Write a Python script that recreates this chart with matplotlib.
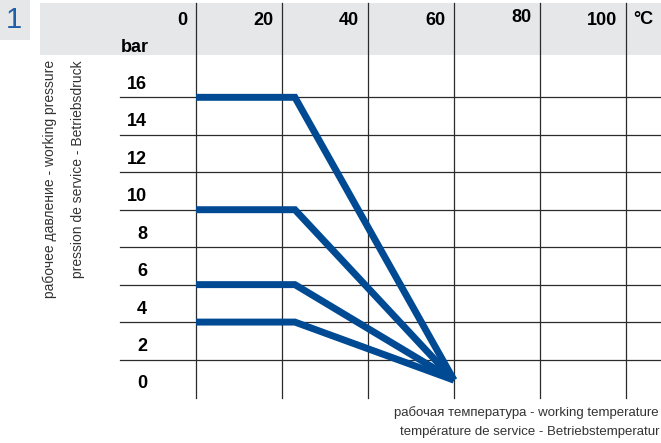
import matplotlib
matplotlib.use("Agg")
from matplotlib import pyplot as plt

# chart data
temps_ticks = [0, 20, 40, 60, 80, 100]
bar_ticks = [0, 2, 4, 6, 8, 10, 12, 14, 16]
pressures = [16, 10, 6, 4]
knee_temp = 23
end_temp = 60
end_pressure = 0.9

BLUE = "#004a93"
GRID = "#2b2b2b"
NARROW = ["Liberation Sans Narrow", "Liberation Sans", "DejaVu Sans"]

# pixel -> data mapping (86 px per 20 degC, 18.73 px per bar)
PX_X = 20 / 86.0
PX_Y = 1 / 18.73
X0, Y0 = 196, 397
W, H = 661, 443


def dx(px):
    return (px - X0) * PX_X


def dy(py):
    return (Y0 - py) * PX_Y


fig = plt.figure(figsize=(W / 100, H / 100), dpi=100)
ax = fig.add_axes([0, 0, 1, 1])
ax.set_xlim(dx(0), dx(W))
ax.set_ylim(dy(H), dy(0))
ax.axis("off")

# grey header band and "1" box
ax.fill_between([dx(40), dx(W)], dy(55), dy(3), color="#e6e7e9", lw=0, zorder=0)
ax.fill_between([dx(0), dx(30)], dy(40), dy(0), color="#e6e7e9", lw=0, zorder=0)
ax.text(dx(14), dy(20), "1", color="#1f5fa6", fontsize=21, ha="center", va="center",
        family=["Liberation Sans", "DejaVu Sans"])

# grid
for t in temps_ticks:
    ax.plot([t, t], [dy(398), dy(3)], color=GRID, lw=0.9, zorder=1)
for p in bar_ticks[1:]:
    ax.plot([dx(120), dx(W)], [p, p], color=GRID, lw=0.9, zorder=1)

# header labels
for t in temps_ticks:
    yy = dy(17) if t == 80 else dy(20)
    ax.text(t - 9 * PX_X, yy, str(t), ha="right", va="center", fontsize=13,
            fontweight="bold", family=NARROW)
ax.text(dx(633), dy(19), "°C", ha="left", va="center", fontsize=13,
        fontweight="bold", family=NARROW)
ax.text(dx(135), dy(47), "bar", ha="center", va="center", fontsize=13,
        fontweight="bold", family=NARROW)

for p in bar_ticks:
    ax.text(dx(147), p + 13 * PX_Y, str(p), ha="right", va="center", fontsize=13,
            fontweight="bold", family=NARROW)

# pressure curves
for p in pressures:
    ax.plot([0, knee_temp, end_temp], [p, p, end_pressure], color=BLUE, lw=5,
            solid_joinstyle="miter", solid_capstyle="butt", zorder=3)

# axis titles
ax.text(dx(50), dy(60), "рабочее давление - working pressure", rotation=90,
        ha="center", va="top", fontsize=10, color="#333333", family=NARROW)
ax.text(dx(78), dy(60), "pression de service - Betriebsdruck", rotation=90,
        ha="center", va="top", fontsize=10, color="#333333", family=NARROW)
ax.text(dx(659), dy(413), "рабочая температура - working temperature",
        ha="right", va="center", fontsize=9.5, color="#333333", family=NARROW)
ax.text(dx(659), dy(432), "température de service - Betriebstemperatur",
        ha="right", va="center", fontsize=9.5, color="#333333", family=NARROW)

fig.savefig("out.png", dpi=100)
